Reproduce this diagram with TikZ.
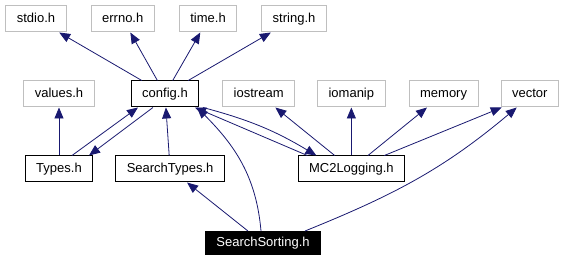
\documentclass[tikz,border=0pt]{standalone}
\usepackage{fontspec}
\setmainfont{Liberation Sans}
\usetikzlibrary{arrows.meta}
\usetikzlibrary{positioning}
\definecolor{edgeblue}{RGB}{25,25,112}
\definecolor{sysgray}{RGB}{191,191,191}

\begin{document}
\begin{tikzpicture}[x=1pt, y=1pt, font=\fontsize{13}{15}\selectfont, node distance=24pt]

\tikzstyle{sysfile} = [rectangle, minimum height=26pt, inner xsep=11pt, inner ysep=0pt, text height=9.5pt, text depth=2.7pt, draw=sysgray, line width=1pt]
\tikzstyle{header} = [sysfile, draw=black]
\tikzstyle{current} = [header, fill=black, text=white, minimum height=23pt]
\tikzstyle{arrow} = [line width=0.8pt, draw=edgeblue, -{Triangle[length=11pt,width=9pt,fill=edgeblue]}]

\useasboundingbox (0,0) rectangle (568,261);

% system headers on top
\node (stdio) [sysfile] at (36,242) {stdio.h};
\node (errno) [sysfile, right=of stdio] {errno.h};
\node (time) [sysfile, right=of errno] {time.h};
\node (string) [sysfile, right=of time] {string.h};

% middle row
\node (values) [sysfile] at (59,167) {values.h};
\node (config) [header, right=36pt of values] {config.h};
\node (iostream) [sysfile, right=23pt of config] {iostream};
\node (iomanip) [sysfile, right=22pt of iostream] {iomanip};
\node (memory) [sysfile, right=23pt of iomanip] {memory};
\node (vector) [sysfile, right=22pt of memory] {vector};

% project headers
\node (types) [header, below=48pt of values] {Types.h};
\node (searchtypes) [header, right=22pt of types] {SearchTypes.h};
\node (logging) [header, below=48pt of iomanip] {MC2Logging.h};
\node (sorting) [current] at (263,18) {SearchSorting.h};

\draw [arrow] (config) -- (stdio);
\draw [arrow] (config) -- (errno);
\draw [arrow] (config) -- (time);
\draw [arrow] (config) -- (string);
\draw [arrow] (types) -- (values);
\draw [arrow] ([xshift=13pt]types.north) -- ([xshift=-27pt]config.south);
\draw [arrow] ([xshift=-12pt]config.south) -- ([xshift=30pt]types.north);
\draw [arrow] (searchtypes) -- (config);
\draw [arrow] ([xshift=-44pt]logging.north) -- ([xshift=30pt]config.south);
\draw [arrow] ([xshift=38pt]config.south) to[bend left=8] ([xshift=-35pt]logging.north);
\draw [arrow] (logging) -- (iostream);
\draw [arrow] (logging) -- (iomanip);
\draw [arrow] (logging) -- (memory);
\draw [arrow] ([xshift=33pt]logging.north) -- ([xshift=-28pt]vector.south);
\draw [arrow] (sorting) -- (searchtypes);
\draw [arrow] ([xshift=-2pt]sorting.north) to[out=95, in=-45] ([xshift=32pt]config.south);
\draw [arrow] ([xshift=42pt]sorting.north) to[out=22, in=-140] ([xshift=-13pt]vector.south);
\end{tikzpicture}
\end{document}
